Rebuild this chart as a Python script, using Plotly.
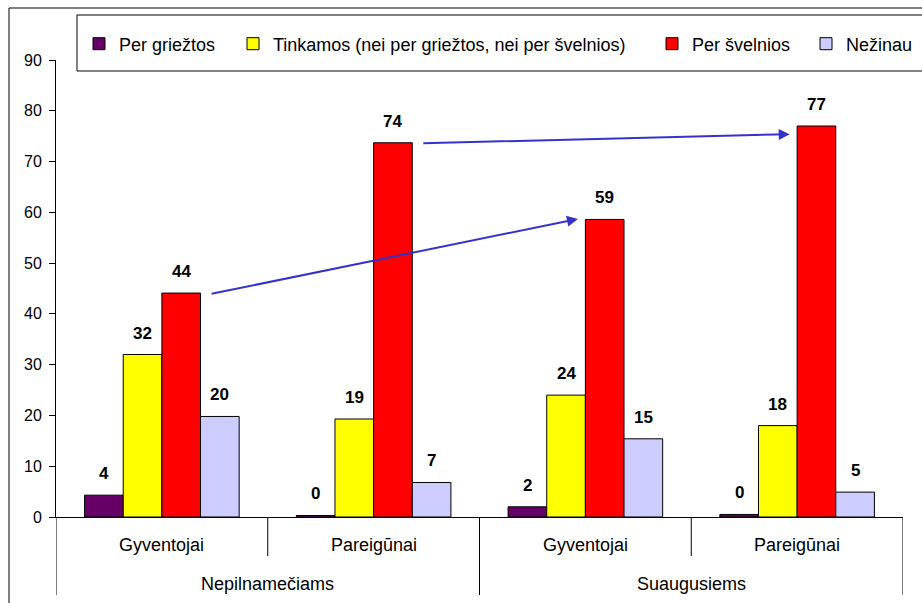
import plotly.graph_objects as go

# ---- data ----
groups = ["Nepilnamečiams", "Suaugusiems"]
subcats = ["Gyventojai", "Pareigūnai", "Gyventojai", "Pareigūnai"]
series_names = ["Per griežtos", "Tinkamos (nei per griežtos, nei per švelnios)", "Per švelnios", "Nežinau"]
per_grieztos = [4.3, 0.3, 2.0, 0.5]
tinkamos = [32.0, 19.3, 24.0, 18.0]
per_svelnios = [44.1, 73.7, 58.6, 77.0]
nezinau = [19.8, 6.8, 15.4, 4.9]
y_ticks = [0, 10, 20, 30, 40, 50, 60, 70, 80, 90]
# arrows: (from category, from value, to category, to value) on "Per švelnios" bars
arrows = [(0, 43.9, 2, 58.7), (1, 73.6, 3, 75.4)]

series_values = [per_grieztos, tinkamos, per_svelnios, nezinau]
colors = ["#660066", "#FFFF00", "#FF0000", "#CCCCFF"]

FONT = "Liberation Sans, Arial, sans-serif"
BARGAP = 0.27
W = (1 - BARGAP) / len(series_values)

# pixel geometry helpers (figure 922x603)
ML, MR, MT, MB = 56, 19, 60, 86
PW = 922 - ML - MR
PH = 603 - MT - MB


def px_x(p):
    return (p - ML) / PW


def px_y(p):
    return (603 - MB - p) / PH


xs = list(range(len(subcats)))
legend_ids = ["legend", "legend2", "legend3", "legend4"]
legend_x = [79, 233, 652, 806]

fig = go.Figure()
for name, vals, col, lid in zip(series_names, series_values, colors, legend_ids):
    fig.add_trace(go.Bar(
        x=xs, y=vals, name=name, legend=lid,
        marker=dict(color=col, line=dict(color="#000000", width=1)),
        hoverinfo="skip",
    ))

annotations = []
# data labels
for j, vals in enumerate(series_values):
    for i, v in enumerate(vals):
        annotations.append(dict(
            x=i + (j - 1.5) * W, y=v, xref="x", yref="y",
            text="<b>%d</b>" % round(v), showarrow=False,
            yanchor="bottom", yshift=10,
            font=dict(family=FONT, size=17, color="#000000"),
        ))

# category labels
for i, lab in enumerate(subcats):
    annotations.append(dict(
        x=i, y=px_y(545), xref="x", yref="paper", text=lab, showarrow=False,
        yanchor="middle", font=dict(family=FONT, size=18, color="#000000"),
    ))
for g, lab in enumerate(groups):
    annotations.append(dict(
        x=2 * g + 0.5, y=px_y(584), xref="x", yref="paper", text=lab, showarrow=False,
        yanchor="middle", font=dict(family=FONT, size=18, color="#000000"),
    ))

# arrows between red bars
red_off = 0.5 * W
for (c0, v0, c1, v1) in arrows:
    annotations.append(dict(
        x=c1 + red_off - W / 2 - 0.035, y=v1, xref="x", yref="y",
        ax=c0 + red_off + W / 2 + 0.045, ay=v0, axref="x", ayref="y",
        text="", showarrow=True, arrowhead=2, arrowsize=1.1, arrowwidth=2,
        arrowcolor="#3333CC", standoff=0, startstandoff=0,
    ))

shapes = []
# outer chart border
shapes.append(dict(type="rect", xref="paper", yref="paper",
                   x0=px_x(9), x1=px_x(960), y0=px_y(640), y1=px_y(8),
                   line=dict(color="#000000", width=1), fillcolor="rgba(0,0,0,0)", layer="above"))
# legend box
shapes.append(dict(type="rect", xref="paper", yref="paper",
                   x0=px_x(77), x1=px_x(950), y0=px_y(71), y1=px_y(15),
                   line=dict(color="#000000", width=1), fillcolor="#FFFFFF", layer="above"))
# inner dividers
for xb in [0.5, 2.5]:
    shapes.append(dict(type="line", xref="x", yref="paper", x0=xb, x1=xb,
                       y0=0, y1=px_y(556), line=dict(color="#000000", width=1)))
# group dividers
for xb in [-0.5, 1.5, 3.5]:
    shapes.append(dict(type="line", xref="x", yref="paper", x0=xb, x1=xb,
                       y0=0, y1=px_y(595), line=dict(color="#000000", width=1)))

legend_common = dict(orientation="h", xanchor="left", y=px_y(44), yanchor="middle",
                     bgcolor="rgba(0,0,0,0)", borderwidth=0,
                     font=dict(family=FONT, size=18, color="#000000"),
                     itemclick=False, itemdoubleclick=False)
legends = {lid: dict(x=px_x(lx), **legend_common) for lid, lx in zip(legend_ids, legend_x)}

fig.update_layout(
    width=922, height=603,
    margin=dict(l=ML, r=MR, t=MT, b=MB, pad=0, autoexpand=False),
    paper_bgcolor="#FFFFFF", plot_bgcolor="rgba(0,0,0,0)",
    barmode="group", bargap=BARGAP, bargroupgap=0,
    font=dict(family=FONT, size=16, color="#000000"),
    showlegend=True,
    xaxis=dict(range=[-0.5, 3.5], showticklabels=False, ticks="", showgrid=False,
               zeroline=False, showline=True, linecolor="#000000", linewidth=1, fixedrange=True),
    yaxis=dict(range=[0, 90], tickvals=y_ticks, ticks="outside", ticklen=6, tickcolor="#000000",
               ticklabelstandoff=4,
               showgrid=False, zeroline=False, showline=True, linecolor="#000000", linewidth=1,
               tickfont=dict(family=FONT, size=16, color="#000000"), fixedrange=True),
    annotations=annotations,
    shapes=shapes,
    **legends,
)

fig.write_html("out.html", config={"displayModeBar": False},
               post_script="document.body.style.margin='0px';")
